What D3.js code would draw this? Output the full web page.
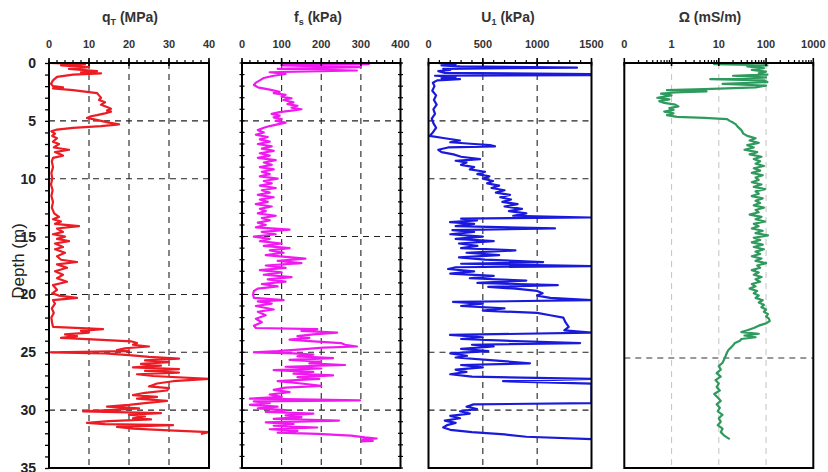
<!DOCTYPE html>
<html><head><meta charset="utf-8">
<script src="https://cdn.jsdelivr.net/npm/d3@7"></script>
<style>
html,body{margin:0;padding:0;background:#fff;}
svg{display:block;font-family:"Liberation Sans",Arial,sans-serif;}
</style></head>
<body>
<svg id="chart" width="828" height="472"></svg>
<script>
// ---------------- DATA ----------------
const depthTicks = [0,5,10,15,20,25,30,35];
const qtTicks = [0,10,20,30,40];
const fsTicks = [0,100,200,300,400];
const u1Ticks = [0,500,1000,1500];
const omegaTicks = [0.1,1,10,100,1000];
const omegaTickLabels = ["0","1","10","100","1000"];

// [depth (m), value]
const qtProfile = [[0,0],[0.1,9],[0.2,3],[0.35,10],[0.5,5],[0.7,12],[0.8,8],[0.9,13],[1.0,6],[1.2,2],[1.5,1],[1.8,0.5],[2.0,1],[2.1,3.5],[2.2,1],[2.35,6],[2.5,9.5],[2.6,12],[2.8,12.5],[3.0,13],[3.2,12.5],[3.4,14],[3.6,13],[3.8,14.5],[3.95,15.5],[4.1,14.5],[4.2,15.5],[4.35,14],[4.5,12],[4.6,10.5],[4.75,9.5],[4.85,11],[5.0,13],[5.15,15],[5.3,17.5],[5.45,13],[5.6,6],[5.75,2],[5.9,0.6],[6.1,1.5],[6.3,0.8],[6.5,2],[6.8,1],[7.0,2.5],[7.3,1.2],[7.5,5],[7.7,1.5],[8.0,3.5],[8.2,1],[8.5,0.7],[9,1],[9.5,0.6],[10,0.8],[10.5,0.5],[11,0.9],[11.5,0.6],[12,1],[12.5,0.7],[13,1.3],[13.3,2.5],[13.5,1],[13.7,3],[13.9,1.5],[14.1,7.5],[14.3,2],[14.6,3.5],[14.8,1],[15.0,4],[15.2,2],[15.4,5],[15.6,1.5],[15.9,3.5],[16.1,1.5],[16.4,4],[16.7,2],[17.0,3],[17.2,7],[17.4,2],[17.7,4.5],[18.0,1.5],[18.3,3.5],[18.6,2],[18.9,4.5],[19.2,1],[19.6,2],[19.9,0.8],[20.1,2.5],[20.3,7],[20.5,1],[20.8,1.5],[21.2,0.7],[21.6,1.2],[22,0.6],[22.5,0.8],[22.8,1],[23.0,13.5],[23.15,8],[23.3,10],[23.45,4],[23.6,7],[23.75,3],[23.9,12],[24.05,20.5],[24.2,22],[24.35,21],[24.5,25],[24.65,19],[24.8,17],[24.9,20],[25.0,0.5],[25.1,14],[25.25,20],[25.4,25],[25.55,32.5],[25.7,24],[25.85,30],[26.0,23],[26.15,28],[26.3,21],[26.45,32.5],[26.6,24],[26.75,32.5],[26.9,22],[27.05,26],[27.3,40],[27.5,31],[27.7,27],[27.95,25],[28.1,30],[28.3,29.5],[28.5,24],[28.7,21],[28.85,27],[29.0,22],[29.2,29.5],[29.4,24],[29.55,20],[29.7,14.5],[29.85,22.5],[30.0,15],[30.1,8.5],[30.25,28],[30.4,20],[30.55,24],[30.7,21],[30.8,25.5],[30.95,15],[31.1,9.5],[31.2,14],[31.3,31],[31.45,17],[31.6,21],[31.75,30],[31.9,40],[32.05,38]];

const fsProfile = [[0,60],[0.1,320],[0.2,100],[0.35,300],[0.5,90],[0.65,290],[0.8,70],[0.95,110],[1.1,80],[1.3,55],[1.5,45],[1.7,35],[1.9,30],[2.1,40],[2.3,70],[2.5,95],[2.6,80],[2.75,110],[2.9,100],[3.05,125],[3.2,105],[3.4,130],[3.55,115],[3.7,140],[3.85,125],[4.0,150],[4.1,130],[4.25,95],[4.4,75],[4.55,95],[4.7,80],[4.85,100],[5.0,85],[5.15,110],[5.3,90],[5.45,70],[5.6,55],[5.8,40],[6.0,55],[6.2,35],[6.4,65],[6.6,45],[6.8,70],[7.0,40],[7.2,75],[7.4,50],[7.6,80],[7.8,45],[8.0,70],[8.2,40],[8.4,85],[8.6,55],[8.8,75],[9.0,45],[9.2,80],[9.4,50],[9.6,70],[9.8,45],[10.0,90],[10.2,55],[10.4,75],[10.6,45],[10.8,85],[11.0,50],[11.2,70],[11.4,40],[11.6,80],[11.8,45],[12.0,65],[12.2,35],[12.4,75],[12.6,45],[12.8,60],[13.0,40],[13.2,85],[13.4,50],[13.6,70],[13.8,40],[14.0,60],[14.2,35],[14.4,120],[14.6,50],[14.8,85],[15.0,30],[15.2,70],[15.4,45],[15.6,100],[15.8,55],[16.0,120],[16.2,70],[16.4,105],[16.6,60],[16.9,160],[17.1,90],[17.3,150],[17.5,60],[17.7,110],[17.9,45],[18.1,100],[18.3,55],[18.5,125],[18.7,65],[18.9,110],[19.1,50],[19.3,90],[19.5,40],[19.7,30],[20.0,28],[20.3,30],[20.5,105],[20.6,40],[20.8,75],[21.0,35],[21.3,80],[21.5,40],[21.8,60],[22.1,35],[22.4,50],[22.7,30],[22.9,35],[23.0,190],[23.15,150],[23.3,240],[23.45,180],[23.6,140],[23.75,170],[23.9,120],[24.05,180],[24.2,250],[24.35,260],[24.5,290],[24.6,205],[24.75,150],[24.9,90],[25.0,30],[25.1,130],[25.2,180],[25.35,140],[25.5,230],[25.65,120],[25.8,200],[25.95,170],[26.1,260],[26.25,110],[26.4,200],[26.55,80],[26.7,180],[26.85,130],[27.0,230],[27.15,140],[27.3,195],[27.5,90],[27.7,150],[27.9,200],[28.05,110],[28.25,80],[28.45,120],[28.65,70],[28.85,100],[29.0,20],[29.15,298],[29.25,30],[29.4,70],[29.55,20],[29.7,90],[29.85,40],[30.0,110],[30.15,60],[30.3,180],[30.45,110],[30.6,150],[30.75,80],[30.9,245],[31.05,60],[31.2,130],[31.35,80],[31.5,190],[31.65,70],[31.8,140],[31.95,90],[32.05,190],[32.2,275],[32.35,310],[32.45,340],[32.55,305],[32.65,330],[32.7,300]];

const u1Profile = [[0,80],[0.1,250],[0.2,120],[0.3,290],[0.4,1366],[0.5,135],[0.6,200],[0.7,90],[0.85,150],[0.95,1500],[1.05,1500],[1.1,60],[1.2,250],[1.3,120],[1.4,290],[1.5,80],[1.7,40],[2.0,55],[2.4,35],[2.8,70],[3.2,50],[3.6,75],[4.0,45],[4.4,60],[4.8,30],[5.2,45],[5.6,70],[6.0,40],[6.3,10],[6.5,150],[6.7,290],[6.85,200],[7.0,420],[7.1,565],[7.2,612],[7.3,180],[7.5,90],[7.7,120],[7.9,230],[8.1,300],[8.3,474],[8.45,250],[8.6,350],[8.8,300],[9.0,420],[9.2,380],[9.4,520],[9.6,450],[9.8,560],[10.0,500],[10.2,594],[10.4,540],[10.6,650],[10.8,580],[11.0,700],[11.2,620],[11.4,750],[11.6,660],[11.8,760],[12.0,680],[12.2,820],[12.4,700],[12.6,860],[12.8,740],[13.0,900],[13.2,780],[13.35,1500],[13.45,300],[13.6,446],[13.75,198],[13.9,420],[14.1,250],[14.3,1164],[14.45,220],[14.6,420],[14.8,200],[15.0,500],[15.2,250],[15.4,600],[15.6,280],[15.8,450],[16.0,300],[16.2,800],[16.4,350],[16.6,650],[16.8,280],[17.0,520],[17.2,1055],[17.35,300],[17.55,1500],[17.65,250],[17.8,180],[18.0,420],[18.2,200],[18.4,600],[18.6,380],[18.8,900],[19.0,450],[19.2,1190],[19.35,550],[19.5,800],[19.7,1000],[19.9,1050],[20.1,1000],[20.3,1120],[20.5,1500],[20.65,226],[20.8,500],[21.0,300],[21.2,700],[21.4,500],[21.6,1000],[21.8,1120],[22.0,1240],[22.4,1260],[22.8,1290],[23.1,1250],[23.3,1500],[23.5,198],[23.7,500],[23.85,300],[24.0,700],[24.2,1395],[24.35,400],[24.5,600],[24.7,300],[24.9,550],[25.1,200],[25.3,354],[25.45,250],[25.7,600],[25.95,934],[26.1,300],[26.3,500],[26.5,250],[26.7,350],[26.9,200],[27.1,400],[27.3,1500],[27.5,686],[27.7,1500],[28.5,1500],[29.4,1500],[29.5,414],[29.7,350],[29.9,446],[30.1,290],[30.3,380],[30.5,200],[30.7,290],[30.9,150],[31.1,250],[31.3,170],[31.5,135],[31.7,200],[31.9,400],[32.1,700],[32.3,900],[32.5,1500]];

const omegaProfile = [[0,60],[0.1,8],[0.2,107],[0.3,40],[0.45,90],[0.6,50],[0.75,100],[0.9,70],[1.0,107],[1.1,20],[1.25,100],[1.4,6.6],[1.5,90],[1.65,107],[1.8,12],[1.95,100],[2.1,60],[2.25,5],[2.35,0.8],[2.45,5.5],[2.55,1.2],[2.65,0.6],[2.8,1],[3.0,0.5],[3.15,0.9],[3.3,0.55],[3.45,0.7],[3.6,1.2],[3.75,1.4],[3.9,0.9],[4.05,1.1],[4.2,0.7],[4.35,1.1],[4.5,0.8],[4.65,1.3],[4.75,5],[4.85,15],[5.0,17],[5.15,20],[5.3,23],[5.5,25],[5.8,30],[6.1,33],[6.3,40],[6.5,60],[6.7,45],[6.9,70],[7.1,40],[7.3,55],[7.5,35],[7.7,65],[7.9,45],[8.1,80],[8.3,55],[8.5,75],[8.7,60],[8.9,90],[9.1,55],[9.3,75],[9.5,50],[9.7,85],[9.9,60],[10.1,70],[10.3,50],[10.5,80],[10.7,55],[10.9,95],[11.1,60],[11.3,70],[11.5,50],[11.7,85],[11.9,60],[12.1,75],[12.3,55],[12.5,90],[12.7,60],[12.9,70],[13.1,45],[13.3,80],[13.5,60],[13.7,95],[13.9,55],[14.1,70],[14.3,50],[14.5,85],[14.7,60],[14.9,110],[15.1,55],[15.3,75],[15.5,50],[15.7,85],[15.9,55],[16.1,90],[16.3,60],[16.5,75],[16.7,50],[16.9,80],[17.1,60],[17.3,100],[17.5,65],[17.7,75],[17.9,50],[18.1,70],[18.3,55],[18.5,80],[18.7,60],[18.9,75],[19.1,50],[19.3,60],[19.5,45],[19.7,65],[19.9,55],[20.1,70],[20.3,60],[20.5,85],[20.7,70],[20.9,90],[21.1,80],[21.3,100],[21.5,90],[21.7,110],[21.9,100],[22.1,115],[22.3,120],[22.5,100],[22.7,70],[22.9,55],[23.1,40],[23.25,30],[23.4,70],[23.55,35],[23.7,60],[23.85,30],[24.0,28],[24.2,22],[24.4,20],[24.6,18],[24.8,16],[25.0,15],[25.3,14],[25.6,13],[25.9,12],[26.2,10],[26.5,11],[26.8,9],[27.1,11],[27.4,8.5],[27.7,10],[28.0,9],[28.3,10.5],[28.6,8],[28.9,9.5],[29.2,11],[29.5,9],[29.8,10.5],[30.1,9.5],[30.4,12],[30.7,10],[31.0,11],[31.3,9.5],[31.6,12],[31.9,11],[32.2,13],[32.5,17]];

const p1HGrid = [5,10,20,25,30];
const p2HGrid = [5,15,20,25,30];
const p3HGrid = [5,10,25,30];
const p4HGrid = [25.5];

// ---------------- DRAW ----------------
const svg = d3.select("#chart");
const yTop = 63, yBottom = 468;
const y = d3.scaleLinear().domain([0,35]).range([yTop,yBottom]);

const panels = [
  {id:"p1", data:qtProfile, x:d3.scaleLinear().domain([0,40]).range([49,209]), ticks:qtTicks, labels:qtTicks.map(String),
   minor:d3.range(0,41,2), vgrid:[10,20,30], hgrid:p1HGrid, color:"#ec1c24", gridColor:"#222", vGridColor:"#222",
   title:["q","T"," (MPa)"], titleX:130, sideTicks:"left"},
  {id:"p2", data:fsProfile, x:d3.scaleLinear().domain([0,400]).range([242,400.5]), ticks:fsTicks, labels:fsTicks.map(String),
   minor:d3.range(0,401,20), vgrid:[100,200,300], hgrid:p2HGrid, color:"#f01af0", gridColor:"#222", vGridColor:"#222",
   title:["f","s"," (kPa)"], titleX:318, sideTicks:"both"},
  {id:"p3", data:u1Profile, x:d3.scaleLinear().domain([0,1500]).range([428.5,591.5]), ticks:u1Ticks, labels:u1Ticks.map(String),
   minor:d3.range(0,1501,100), vgrid:[500,1000], hgrid:p3HGrid, color:"#1a1adc", gridColor:"#222", vGridColor:"#222",
   title:["U","1","  (kPa)"], titleX:508, sideTicks:"none"},
  {id:"p4", data:omegaProfile, x:d3.scaleLog().domain([0.1,1000]).range([624.3,813.3]), ticks:omegaTicks, labels:omegaTickLabels,
   minor:[0.2,0.3,0.4,0.5,0.6,0.7,0.8,0.9,2,3,4,5,6,7,8,9,20,30,40,50,60,70,80,90,200,300,400,500,600,700,800,900],
   vgrid:[1,10,100], hgrid:p4HGrid, color:"#2e9a5e", gridColor:"#333", vGridColor:"#c8c8c8",
   title:["Ω (mS/m)"], titleX:710, sideTicks:"none"}
];

const defs = svg.append("defs");

panels.forEach(p => {
  const [x0,x1] = p.x.range();
  const g = svg.append("g").attr("class", p.id);
  defs.append("clipPath").attr("id","clip-"+p.id)
    .append("rect").attr("x",x0).attr("y",yTop).attr("width",x1-x0).attr("height",yBottom-yTop);

  g.selectAll(".vg").data(p.vgrid).join("line")
    .attr("x1",d=>p.x(d)).attr("x2",d=>p.x(d)).attr("y1",yTop).attr("y2",yBottom)
    .attr("stroke",p.vGridColor).attr("stroke-width",1.1).attr("stroke-dasharray","6,5");
  g.selectAll(".hg").data(p.hgrid).join("line")
    .attr("x1",x0).attr("x2",x1).attr("y1",d=>y(d)).attr("y2",d=>y(d))
    .attr("stroke",p.gridColor).attr("stroke-width",1.1).attr("stroke-dasharray","6,5");

  const line = d3.line().x(d=>p.x(Math.max(d[1], p.x.domain()[0]))).y(d=>y(d[0]));
  g.append("path").datum(p.data)
    .attr("clip-path","url(#clip-"+p.id+")")
    .attr("d",line).attr("fill","none").attr("stroke",p.color)
    .attr("stroke-width",2.2).attr("stroke-linejoin","round");

  g.append("rect").attr("x",x0).attr("y",yTop).attr("width",x1-x0).attr("height",yBottom-yTop)
    .attr("fill","none").attr("stroke","#000").attr("stroke-width",2);

  g.selectAll(".mt").data(p.minor).join("line")
    .attr("x1",d=>p.x(d)).attr("x2",d=>p.x(d)).attr("y1",yTop-3).attr("y2",yTop+1)
    .attr("stroke","#000").attr("stroke-width",1.2);
  g.selectAll(".Mt").data(p.ticks).join("line")
    .attr("x1",d=>p.x(d)).attr("x2",d=>p.x(d)).attr("y1",yTop-5).attr("y2",yTop+3)
    .attr("stroke","#000").attr("stroke-width",1.6);
  g.selectAll(".tl").data(p.ticks).join("text")
    .attr("x",d=>p.x(d)).attr("y",48).attr("text-anchor","middle")
    .attr("font-size",11).attr("font-weight","bold").attr("fill","#333")
    .text((d,i)=>p.labels[i]);

  const dMinor = d3.range(0,36,1);
  if (p.sideTicks === "both") {
    [x0,x1].forEach(xx => {
      g.append("g").selectAll("line").data(dMinor).join("line")
        .attr("x1",xx-2.5).attr("x2",xx+2.5).attr("y1",d=>y(d)).attr("y2",d=>y(d))
        .attr("stroke","#000").attr("stroke-width",1.2);
    });
  }

  const t = g.append("text").attr("x",p.titleX).attr("y",22).attr("text-anchor","middle")
    .attr("font-size",14).attr("font-weight","bold").attr("fill","#333");
  if (p.title.length === 3) {
    t.append("tspan").text(p.title[0]);
    t.append("tspan").attr("font-size",9).attr("dy",3).text(p.title[1]);
    t.append("tspan").attr("dy",-3).text(p.title[2]);
  } else {
    t.text(p.title[0]);
  }
});

const p1x0 = panels[0].x.range()[0];
const yAxis = d3.axisLeft(y).tickValues(d3.range(0,36,1)).tickSize(4).tickFormat(()=>"");
const ga = svg.append("g").attr("transform",`translate(${p1x0},0)`).call(yAxis);
ga.select(".domain").remove();
ga.selectAll(".tick line").attr("stroke","#000").attr("stroke-width",1.3);
svg.append("g").selectAll("text").data(depthTicks).join("text")
  .attr("x",36).attr("y",d=>y(d)+5).attr("text-anchor","end")
  .attr("font-size",14).attr("font-weight","bold").attr("fill","#222")
  .text(d=>d);

svg.append("text").attr("transform","translate(24,261) rotate(-90)")
  .attr("text-anchor","middle").attr("font-size",17).attr("fill","#222")
  .text("Depth (m)");
</script>
</body></html>
